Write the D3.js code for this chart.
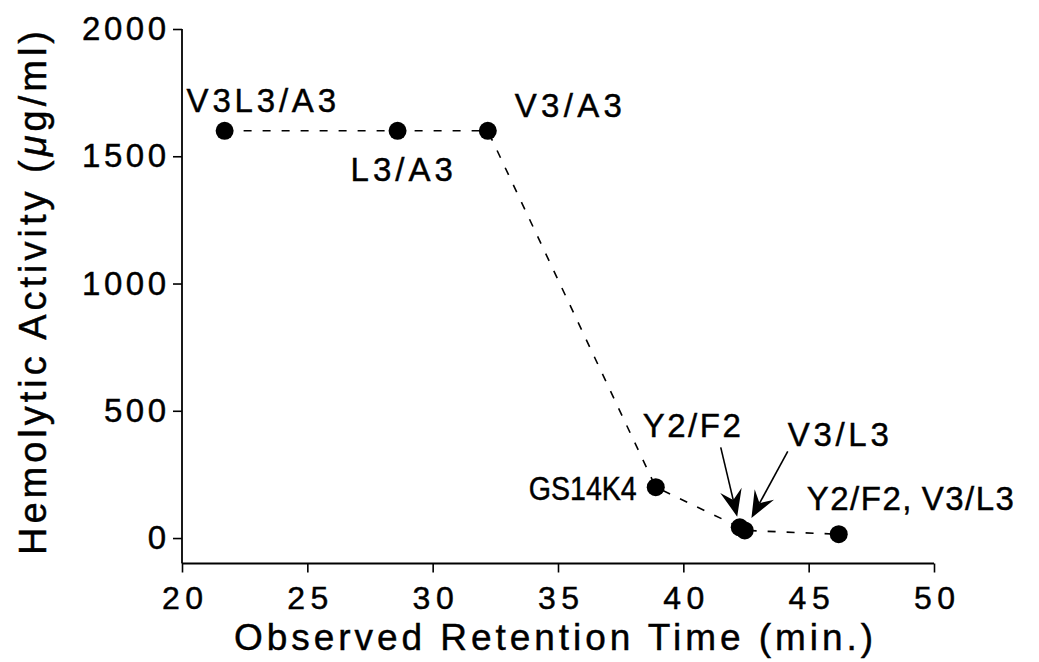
<!DOCTYPE html>
<html>
<head>
<meta charset="utf-8">
<script src="https://cdn.jsdelivr.net/npm/d3@7"></script>
<style>
  html, body { margin: 0; padding: 0; background: #fff; }
  svg { display: block; }
  text { font-family: "Liberation Sans", Arial, Helvetica, sans-serif; fill: #000; stroke: #000; stroke-width: 0.45px; }
</style>
</head>
<body>
<svg id="chart" width="1039" height="662"></svg>
<script>
// Retention time (min) and hemolytic activity (µg/ml) for each peptide analogue
const retentionTimes = [21.7, 28.6, 32.2, 38.9, 42.25, 42.45, 46.2];
const hemolyticActivity = [1600, 1600, 1600, 200, 42, 30, 15];
const peptideLabels = ["V3L3/A3", "L3/A3", "V3/A3", "GS14K4", "Y2/F2", "V3/L3", "Y2/F2,"];
const trailingLabel = "V3/L3";
const xTicks = [20, 25, 30, 35, 40, 45, 50];
const yTicks = [0, 500, 1000, 1500, 2000];

const svg = d3.select("#chart");

const x = d3.scaleLinear().domain([20, 50]).range([182, 934]);
const y = d3.scaleLinear().domain([-100, 2000]).range([563.5, 29]);

// Axes
const xAxis = svg.append("g")
  .attr("transform", `translate(0,${y(-100)})`)
  .call(d3.axisBottom(x).tickValues(xTicks).tickSize(9).tickPadding(14).tickFormat(d3.format("d")));
xAxis.select(".domain").attr("stroke-width", 2).attr("d", `M${x(20)},0H${x(50)}`);
xAxis.selectAll(".tick line").attr("stroke-width", 1.6);
xAxis.selectAll(".tick text")
  .attr("font-size", 32).attr("letter-spacing", "5.5px").attr("dx", "2.75px")
  .style("font-family", "'Liberation Sans', Arial, sans-serif");

const yAxis = svg.append("g")
  .attr("transform", `translate(${x(20)},0)`)
  .call(d3.axisLeft(y).tickValues(yTicks).tickSize(9).tickPadding(7).tickFormat(d3.format("d")));
yAxis.select(".domain").attr("stroke-width", 1.8).attr("d", `M0,${y(2000)}V${y(-100)}`);
yAxis.selectAll(".tick line").attr("stroke-width", 1.6);
yAxis.selectAll(".tick text")
  .attr("font-size", 33).attr("letter-spacing", "3.5px").attr("dx", "3.5px")
  .style("font-family", "'Liberation Sans', Arial, sans-serif");
svg.selectAll(".domain, .tick line").attr("stroke", "#000");

// Axis titles
svg.append("text")
  .attr("x", 234).attr("y", 650)
  .attr("font-size", 37)
  .attr("textLength", 639).attr("lengthAdjust", "spacing")
  .text("Observed Retention Time (min.)");

const yTitle = svg.append("text")
  .attr("transform", "translate(46,555) rotate(-90)")
  .attr("font-size", 38)
  .attr("textLength", 524).attr("lengthAdjust", "spacing");
yTitle.append("tspan").text("Hemolytic  Activity  (");
yTitle.append("tspan").attr("font-style", "italic").text("μ");
yTitle.append("tspan").text("g/ml)");

// Dashed connecting line
const pts = retentionTimes.map((t, i) => [x(t), y(hemolyticActivity[i])]);
svg.append("path")
  .attr("d", d3.line()(pts))
  .attr("fill", "none").attr("stroke", "#000")
  .attr("stroke-width", 1.6).attr("stroke-dasharray", "8,11");

// Markers
svg.selectAll("circle.pt")
  .data(pts).enter().append("circle")
  .attr("class", "pt")
  .attr("cx", d => d[0]).attr("cy", d => d[1]).attr("r", 9)
  .attr("fill", "#000");

// Point labels: [dx, dy, anchor, font-size, letter-spacing]
const labelStyle = [
  [-38, -19, "start", 33, 3.8],
  [-47, 50, "start", 33, 4],
  [27, -14, "start", 33, 4.3],
  [-127, 13, "start", 33, 0],
  [-97, -90, "start", 33, 2.5],
  [43, -84, "start", 33, 3.7],
  [-32, -24, "start", 33, 1.5]
];
peptideLabels.forEach((lab, i) => {
  const [dx, dy, anchor, fs, ls] = labelStyle[i];
  const t = svg.append("text")
    .attr("x", pts[i][0] + dx).attr("y", pts[i][1] + dy)
    .attr("text-anchor", anchor)
    .attr("font-size", fs).attr("letter-spacing", ls + "px")
    .text(lab);
  if (lab === "GS14K4") t.attr("textLength", 108).attr("lengthAdjust", "spacingAndGlyphs");
});
svg.append("text")
  .attr("x", pts[6][0] + 83).attr("y", pts[6][1] - 24)
  .attr("font-size", 33).attr("letter-spacing", "1.5px")
  .text(trailingLabel);

// Arrows from the two overlapping-point labels
function arrow(from, to, gap) {
  const vx = to[0] - from[0], vy = to[1] - from[1];
  const len = Math.hypot(vx, vy), ux = vx / len, uy = vy / len;
  const tip = [to[0] - ux * gap, to[1] - uy * gap];
  const headLen = 27, half = 11, notch = 17;
  const back = [tip[0] - ux * headLen, tip[1] - uy * headLen];
  const nb = [tip[0] - ux * notch, tip[1] - uy * notch];
  svg.append("line")
    .attr("x1", from[0]).attr("y1", from[1])
    .attr("x2", nb[0]).attr("y2", nb[1])
    .attr("stroke", "#000").attr("stroke-width", 1.6);
  svg.append("path")
    .attr("d", `M${tip[0]},${tip[1]}L${back[0] - uy * half},${back[1] + ux * half}L${nb[0]},${nb[1]}L${back[0] + uy * half},${back[1] - ux * half}Z`)
    .attr("fill", "#000");
}
arrow([pts[4][0] - 19, pts[4][1] - 80], pts[4], 11);
arrow([pts[5][0] + 43, pts[5][1] - 79], pts[5], 14);
</script>
</body>
</html>
